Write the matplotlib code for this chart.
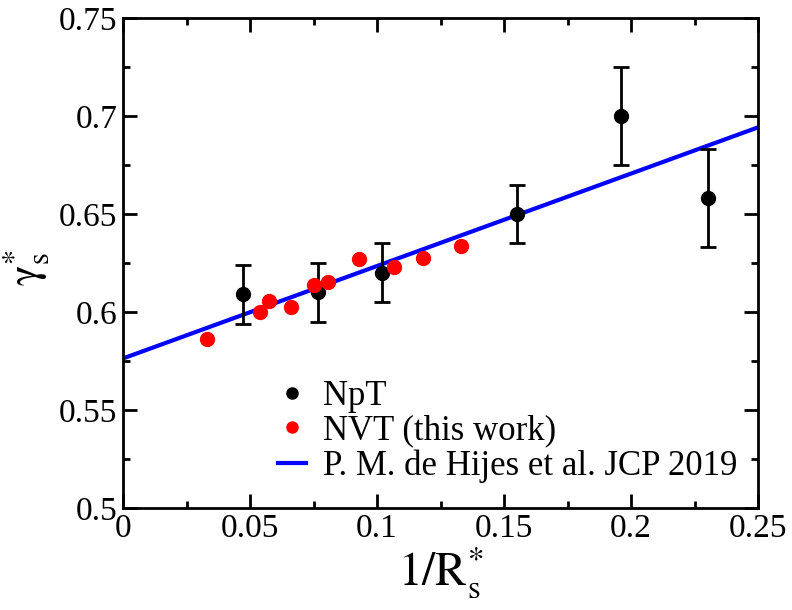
import matplotlib
matplotlib.use("Agg")
import matplotlib.pyplot as plt
from matplotlib.ticker import MultipleLocator
from matplotlib.lines import Line2D

plt.rcParams["font.family"] = ["Liberation Serif", "DejaVu Serif"]
plt.rcParams["mathtext.fontset"] = "stix"

# NpT simulations (with error bars)
npt_x = [0.0472, 0.0766, 0.1020, 0.1550, 0.1960, 0.2302]
npt_y = [0.609, 0.610, 0.620, 0.650, 0.700, 0.658]
npt_err = [0.015, 0.015, 0.015, 0.015, 0.025, 0.025]

# NVT simulations
nvt_x = [0.0330, 0.0540, 0.0575, 0.0661, 0.0750, 0.0807, 0.0929, 0.1065, 0.1180, 0.1331]
nvt_y = [0.5862, 0.5998, 0.6058, 0.6025, 0.6138, 0.6155, 0.6272, 0.6232, 0.6277, 0.6335]

# Linear fit from de Hijes et al.
fit_x = [0.0, 0.25]
fit_y = [0.5763, 0.6942]

fig = plt.figure(figsize=(7.92, 6.10), dpi=100)
ax = fig.add_axes([123 / 792, 1 - 508 / 610, 635 / 792, 490 / 610])

ax.plot(fit_x, fit_y, color="#0000ff", lw=3, zorder=2)
ax.errorbar(npt_x, npt_y, yerr=npt_err, fmt="o", color="black", ms=10,
            elinewidth=2, capsize=6, capthick=2, zorder=3)
ax.plot(nvt_x, nvt_y, "o", color="#ff0000", ms=10, zorder=4)

ax.set_xlim(0, 0.25)
ax.set_ylim(0.5, 0.75)
ax.xaxis.set_minor_locator(MultipleLocator(0.025))
ax.yaxis.set_minor_locator(MultipleLocator(0.025))
ax.set_xticks([0, 0.05, 0.1, 0.15, 0.2, 0.25])
ax.set_xticklabels(["0", "0.05", "0.1", "0.15", "0.2", "0.25"])
ax.set_yticks([0.5, 0.55, 0.6, 0.65, 0.7, 0.75])
ax.set_yticklabels(["0.5", "0.55", "0.6", "0.65", "0.7", "0.75"])

ax.tick_params(which="both", direction="in", top=True, right=True,
               width=2, labelsize=24)
ax.tick_params(which="major", length=10, pad=4)
ax.tick_params(which="minor", length=5)
for s in ax.spines.values():
    s.set_linewidth(2)

ax.set_xlabel(r"$\mathrm{1/R}^{*}_{\mathrm{s}}$", fontsize=34, labelpad=0)
ax.set_ylabel(r"$\mathrm{\gamma}^{*}_{\mathrm{s}}$", fontsize=31)
ax.yaxis.set_label_coords(-0.112, 0.49)

handles = [
    Line2D([], [], ls="none", marker="o", color="black", ms=8),
    Line2D([], [], ls="none", marker="o", color="#ff0000", ms=8),
    Line2D([], [], color="#0000ff", lw=3),
]
labels = ["NpT", "NVT (this work)", "P. M. de Hijes et al. JCP 2019"]
ax.legend(handles, labels, loc="lower left", bbox_to_anchor=(0.217, 0.016),
          frameon=False, fontsize=25, handlelength=0.8, handletextpad=0.5,
          labelspacing=0.05, borderpad=0)

fig.savefig("out.png", dpi=100)
